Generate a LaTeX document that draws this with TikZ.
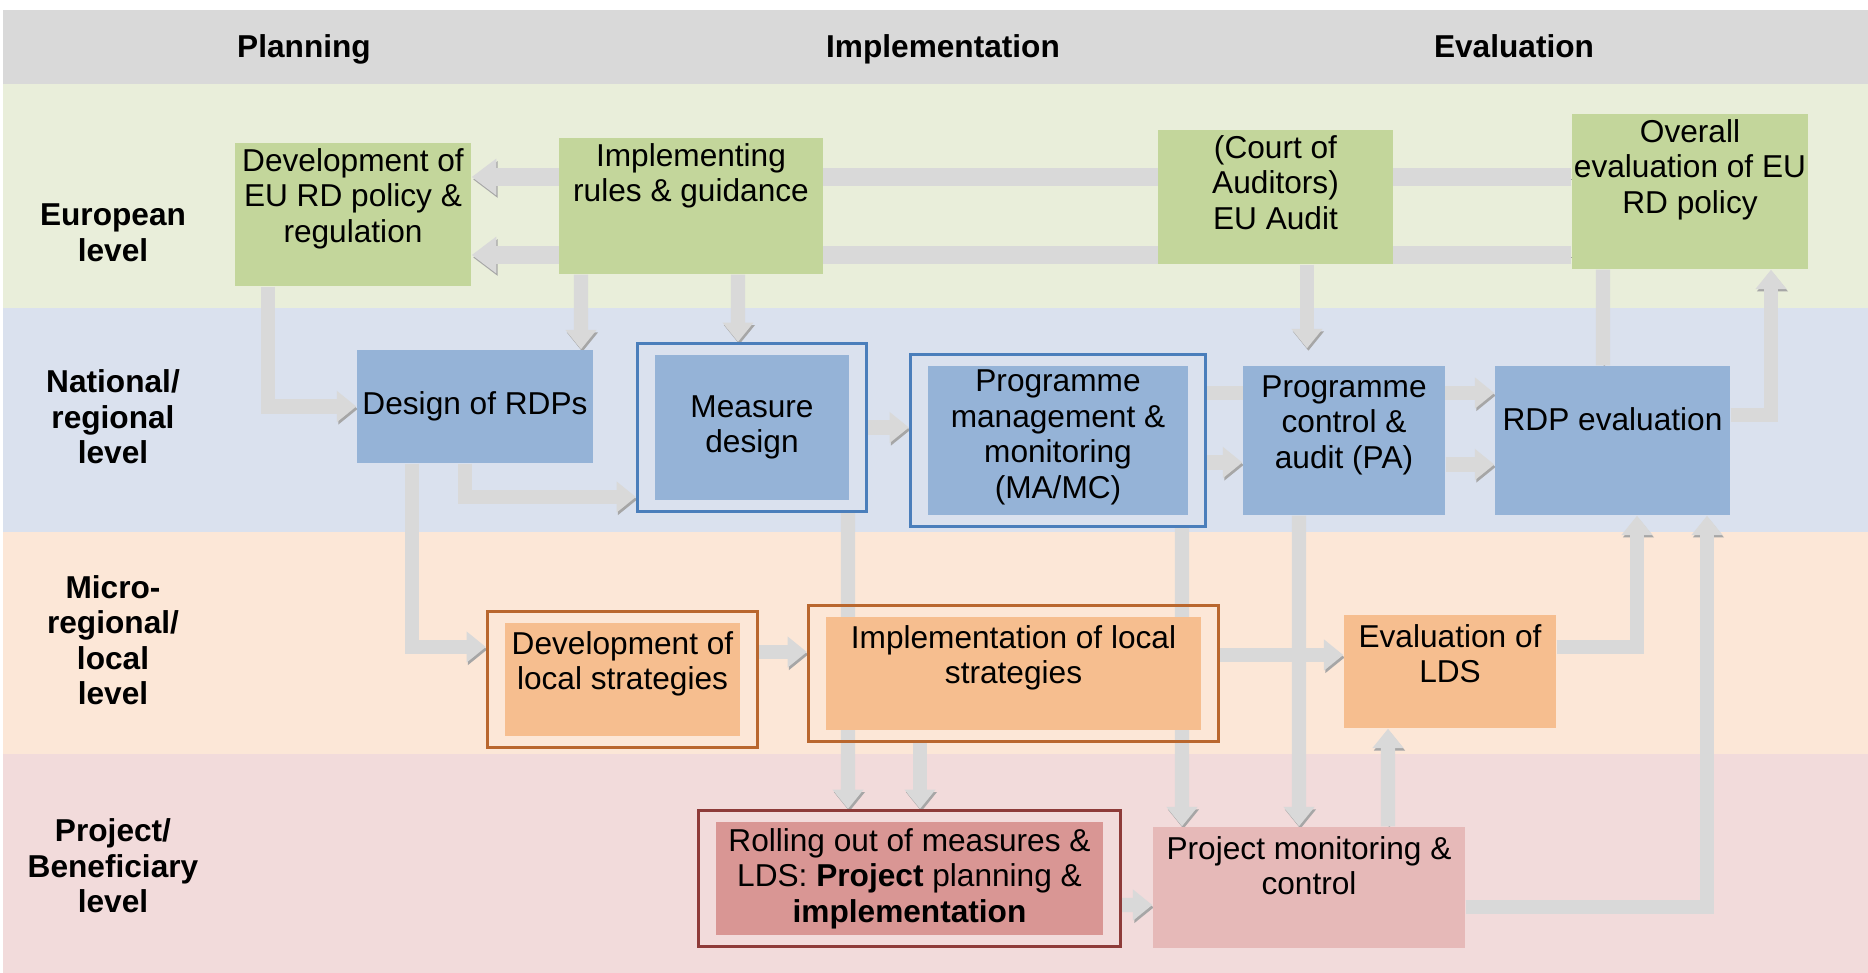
\documentclass[tikz,border=0pt]{standalone}
\usepackage{fontspec}
\setmainfont{Liberation Sans}
\usetikzlibrary{fit,positioning,arrows.meta}

\definecolor{headgray}{HTML}{D9D9D9}
\definecolor{eubg}{HTML}{E9EEDA}
\definecolor{natbg}{HTML}{DAE1EE}
\definecolor{microbg}{HTML}{FCE7D7}
\definecolor{projbg}{HTML}{F2DBDB}
\definecolor{boxgreen}{HTML}{C3D69B}
\definecolor{boxblue}{HTML}{95B3D7}
\definecolor{boxorange}{HTML}{F6BE8F}
\definecolor{boxrose}{HTML}{D99694}
\definecolor{boxpink}{HTML}{E6B9B8}
\definecolor{frameblue}{HTML}{4A7EBB}
\definecolor{frameorange}{HTML}{B9672E}
\definecolor{framered}{HTML}{8E3B39}
\definecolor{arrowgray}{HTML}{D9D9D9}
\definecolor{arrowshade}{HTML}{A6A6A6}

\pgfdeclarelayer{back}
\pgfdeclarelayer{mid}
\pgfsetlayers{back,mid,main}

\newcommand{\boxfont}{\fontsize{9}{10.1}\selectfont}

\tikzset{
  box/.style={fill=#1,inner sep=0pt},
  green box/.style={box=boxgreen},
  blue box/.style={box=boxblue},
  orange box/.style={box=boxorange},
  rose box/.style={box=boxrose},
  pink box/.style={box=boxpink},
  box frame/.style={draw=#1,line width=0.8pt,inner xsep=0.17cm,inner ysep=0.11cm},
  txt/.style={align=center,inner sep=1.5pt,font=\boxfont},
  lvl/.style={align=center,inner sep=1pt,font=\boxfont\bfseries},
  flow/.style={line width=4pt,draw=arrowgray,-{Triangle[width=8.5pt,length=5.5pt]},
    preaction={draw=arrowshade,transform canvas={xshift=0.4pt,yshift=-0.7pt}}},
  big flow/.style={flow,line width=5pt,-{Triangle[width=10pt,length=7pt]}},
  bar/.style={flow,-},
}

\begin{document}
\begin{tikzpicture}[y=-1cm]
  \useasboundingbox (0,0) rectangle (18.68,9.73);
  % bands
  \begin{pgfonlayer}{back}
    \fill[headgray] (0.03,0.10) rectangle (18.68,0.84);
    \fill[eubg] (0.03,0.84) rectangle (18.68,3.08);
    \fill[natbg] (0.03,3.08) rectangle (18.68,5.32);
    \fill[microbg] (0.03,5.32) rectangle (18.68,7.54);
    \fill[projbg] (0.03,7.54) rectangle (18.68,9.73);
  \end{pgfonlayer}

  % titles of columns and rows
  \node[lvl,anchor=base] (planning) at (3.04,0.575) {Planning};
  \node[lvl,anchor=base] (implementation) at (9.43,0.575) {Implementation};
  \node[lvl,anchor=base] (evaluation) at (15.14,0.575) {Evaluation};
  \node[lvl] (eulevel) at (1.13,2.33) {European\\level};
  \node[lvl] (natlevel) at (1.13,4.17) {National/\\regional\\level};
  \node[lvl] (microlevel) at (1.13,6.40) {Micro-\\regional/\\local\\level};
  \node[lvl] (projlevel) at (1.13,8.66) {Project/\\Beneficiary\\level};

  % European level
  \node[green box,fit={(2.35,1.43) (4.71,2.86)}] (dev) {};
  \node[txt,below=0pt of dev.north] (devtxt) {Development of\\EU RD policy \&\\regulation};
  \node[green box,fit={(5.59,1.38) (8.23,2.74)}] (impl) {};
  \node[txt,below=0pt of impl.north] (impltxt) {Implementing\\rules \& guidance};
  \node[green box,fit={(11.58,1.30) (13.93,2.64)}] (court) {};
  \node[txt,below=0pt of court.north] (courttxt) {(Court of\\Auditors)\\EU Audit};
  \node[green box,fit={(15.72,1.14) (18.08,2.69)}] (overall) {};
  \node[txt,below=0pt of overall.north] (overalltxt) {Overall\\evaluation of EU\\RD policy};

  % national / regional level
  \node[blue box,fit={(3.57,3.50) (5.93,4.63)}] (rdps) {};
  \node[txt] (rdpstxt) at (rdps.center) {Design of RDPs};
  \node[blue box,fit={(6.55,3.55) (8.49,5.00)}] (measure) {};
  \node[txt] (measuretxt) at (measure.center) {Measure\\design};
  \node[box frame=frameblue,fit=(measure)] (measureF) {};
  \node[blue box,fit={(9.28,3.66) (11.88,5.15)}] (mamc) {};
  \node[txt] (mamctxt) at ([yshift=0.03cm]mamc.center) {Programme\\management \&\\monitoring\\(MA/MC)};
  \node[box frame=frameblue,fit=(mamc)] (mamcF) {};
  \node[blue box,fit={(12.43,3.66) (14.45,5.15)}] (pa) {};
  \node[txt,below=0.04cm of pa.north] (patxt) {Programme\\control \&\\audit (PA)};
  \node[blue box,fit={(14.95,3.66) (17.30,5.15)}] (rdpeval) {};
  \node[txt] (rdpevaltxt) at ([yshift=0.21cm]rdpeval.center) {RDP evaluation};

  % micro-regional / local level
  \node[orange box,fit={(5.05,6.23) (7.40,7.36)}] (devlocal) {};
  \node[txt,below=0.03cm of devlocal.north] (devlocaltxt) {Development of\\local strategies};
  \node[box frame=frameorange,fit=(devlocal)] (devlocalF) {};
  \node[orange box,fit={(8.26,6.17) (12.01,7.30)}] (impllocal) {};
  \node[txt,below=0.03cm of impllocal.north] (impllocaltxt) {Implementation of local\\strategies};
  \node[box frame=frameorange,fit=(impllocal)] (impllocalF) {};
  \node[orange box,fit={(13.44,6.15) (15.56,7.28)}] (evallds) {};
  \node[txt,below=0.04cm of evallds.north] (evalldstxt) {Evaluation of\\LDS};

  % project / beneficiary level
  \node[rose box,fit={(7.16,8.22) (11.03,9.35)}] (rolling) {};
  \node[txt,below=0.01cm of rolling.north] (rollingtxt) {Rolling out of measures \&\\LDS: \textbf{Project} planning \&\\\textbf{implementation}};
  \node[box frame=framered,fit=(rolling)] (rollingF) {};
  \node[pink box,fit={(11.53,8.27) (14.65,9.48)}] (pmc) {};
  \node[txt,below=0.04cm of pmc.north] (pmctxt) {Project monitoring \&\\control};

  % connectors, behind the boxes
  \begin{pgfonlayer}{mid}
    \draw[big flow] ([yshift=0.145cm]overall.west) -- ([yshift=0.375cm]dev.east);
    \draw[big flow] ([yshift=-0.635cm]overall.west) -- ([yshift=-0.405cm]dev.east);
    \draw[flow] ([xshift=-0.85cm]dev.south) |- (rdps.west);
    \draw[flow] ([xshift=-1.10cm]impl.south) -- ([xshift=1.06cm]rdps.north);
    \draw[flow] ([xshift=0.47cm]impl.south) -- ([xshift=-0.14cm]measureF.north);
    \draw[flow,shorten >=0.17cm] ([xshift=0.315cm]court.south) -- ([xshift=-0.37cm]pa.north);
    \draw[bar] ([xshift=-0.095cm]rdpeval.north) -- ([xshift=-0.87cm]overall.south);
    \draw[flow] ([yshift=0.255cm]rdpeval.east) -| ([xshift=0.81cm]overall.south);

    \draw[flow] (measureF.east) -- (measureF.east -| mamcF.west);
    \draw[flow] ([xshift=-0.10cm]rdps.south) |- ([yshift=-0.695cm]measureF.west);
    \draw[flow] ([yshift=0.475cm]mamcF.east) -- ([yshift=0.475cm]rdpeval.west);
    \draw[flow] ([yshift=-0.22cm]mamcF.east) -- ([yshift=-0.22cm]pa.west);
    \draw[flow] ([yshift=-0.24cm]pa.east) -- ([yshift=-0.24cm]rdpeval.west);

    \draw[flow] ([xshift=-0.63cm]rdps.south) |- ([yshift=0.325cm]devlocalF.west);
    \draw[flow] ([xshift=0.96cm]measureF.south) -- ([xshift=-0.615cm]rollingF.north);
    \draw[flow] ([xshift=1.24cm]mamcF.south) -- ([xshift=-1.27cm]pmc.north);
    \draw[flow] ([xshift=-0.45cm]pa.south) -- ([xshift=-0.10cm]pmc.north);
    \draw[flow] ([xshift=-0.935cm]impllocalF.south) -- ([xshift=0.105cm]rollingF.north);
    \draw[flow] ([yshift=0.275cm]devlocalF.east) -- ([yshift=0.215cm]impllocalF.west);
    \draw[flow] ([yshift=0.185cm]impllocalF.east) -- ([yshift=0.165cm]evallds.west);
    \draw[flow] ([yshift=0.245cm]evallds.east) -| ([xshift=0.245cm]rdpeval.south);
    \draw[flow] ([xshift=0.79cm]pmc.north) -- ([xshift=-0.62cm]evallds.south);
    \draw[flow] ([yshift=-0.265cm]rollingF.east) -- ([yshift=-0.175cm]pmc.west);
    \draw[flow] ([yshift=-0.195cm]pmc.east) -| ([xshift=0.945cm]rdpeval.south);
  \end{pgfonlayer}
\end{tikzpicture}
\end{document}
